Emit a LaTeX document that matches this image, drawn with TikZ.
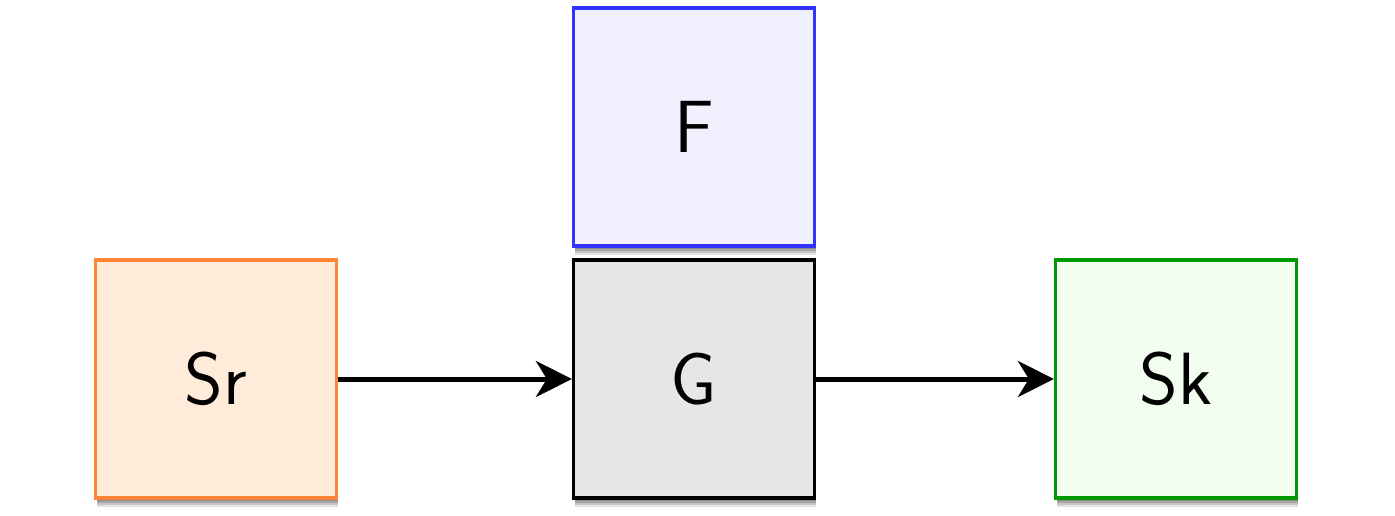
\documentclass[tikz,border=0pt]{standalone}
\usetikzlibrary{arrows.meta,shadows}
\definecolor{srfill}{HTML}{FFEBDA}
\definecolor{srdraw}{HTML}{FF8438}
\definecolor{ffill}{HTML}{F0F0FF}
\definecolor{fdraw}{HTML}{3333FF}
\definecolor{gfill}{HTML}{E6E6E6}
\definecolor{skfill}{HTML}{F2FFF0}
\definecolor{skdraw}{HTML}{009900}
\tikzset{
  softshadow/.style={
    preaction={fill=black, fill opacity=0.16, transform canvas={xshift=1pt,yshift=-3pt}},
    preaction={fill=black, fill opacity=0.16, transform canvas={xshift=1pt,yshift=-5pt}},
    preaction={fill=black, fill opacity=0.14, transform canvas={xshift=1pt,yshift=-7pt}},
    preaction={fill=black, fill opacity=0.10, transform canvas={xshift=1pt,yshift=-9pt}}},
  blockbox/.style={draw, line width=3.2pt, minimum width=241pt, minimum height=238pt,
    inner sep=0pt, font=\sffamily\fontsize{74}{80}\selectfont, softshadow},
  flow/.style={line width=5pt, -{Stealth[length=36pt,width=36pt,inset=11pt]}}
}
\begin{document}
\begin{tikzpicture}[x=1pt,y=-1pt]
\useasboundingbox (0,0) rectangle (1395,516);
\node[blockbox, fill=srfill, draw=srdraw] (sr) at (216,379) {Sr};
\node[blockbox, fill=gfill, draw=black] (g) at (694,379) {G};
\node[blockbox, fill=ffill, draw=fdraw] (f) at (694,127) {F};
\node[blockbox, fill=skfill, draw=skdraw] (sk) at (1176,379) {Sk};
\draw[flow] (sr.east) -- (g.west);
\draw[flow] (g.east) -- (sk.west);
\end{tikzpicture}
\end{document}
